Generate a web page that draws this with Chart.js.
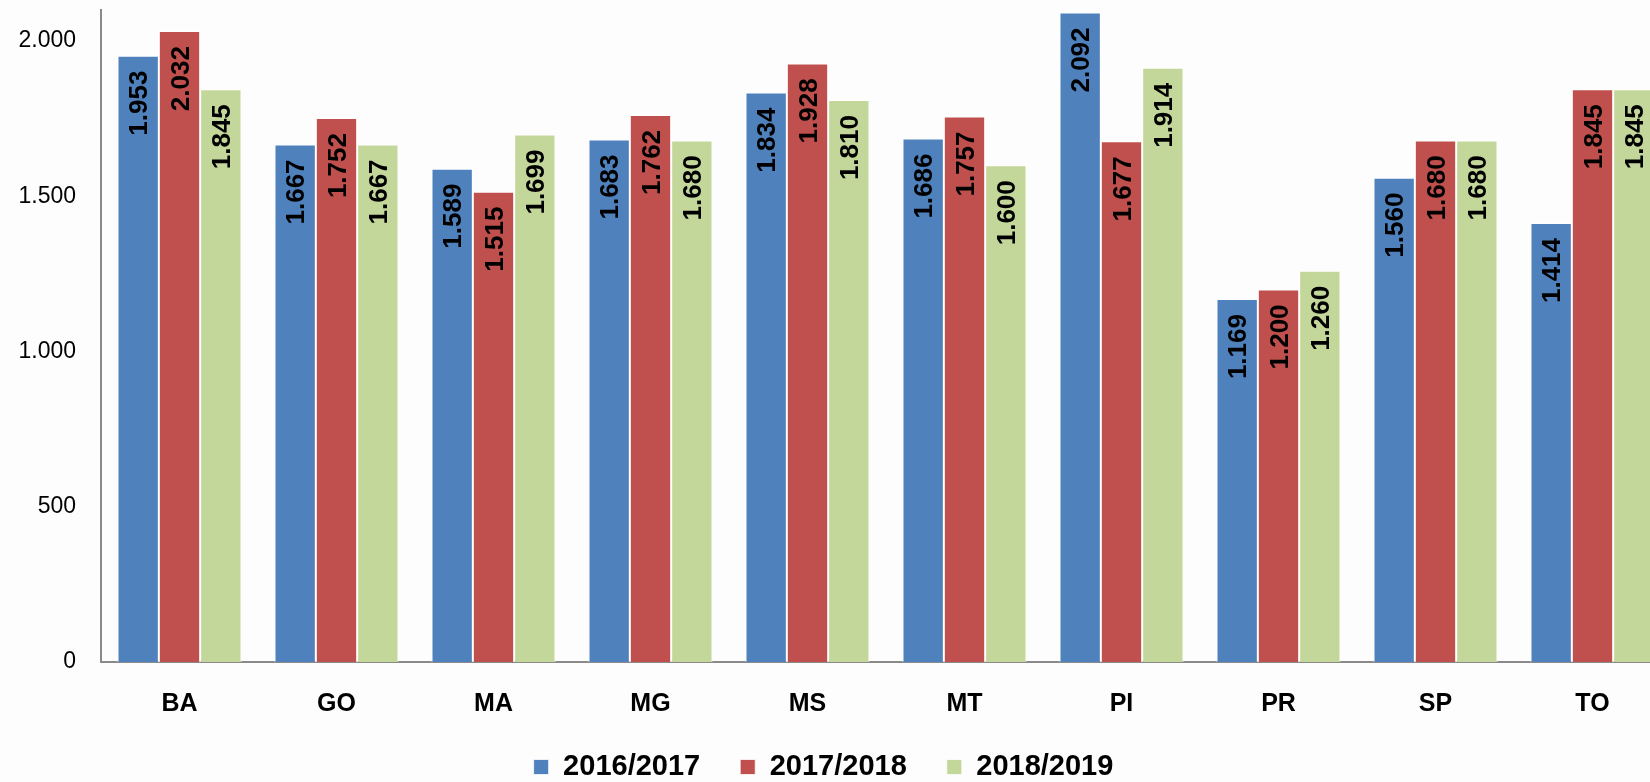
<!DOCTYPE html>
<html lang="pt-BR">
<head>
    <meta charset="UTF-8">
    <title>Gráfico por estado</title>
    <script src="https://cdn.jsdelivr.net/npm/chart.js"></script>
    <style>
        html, body { margin: 0; padding: 0; background: #fdfdfd; overflow: hidden; }
        canvas { display: block; }
    </style>
</head>
<body>
    <canvas id="myChart" width="1680" height="782"></canvas>
    <script>
        // dados
        const estados = ['BA', 'GO', 'MA', 'MG', 'MS', 'MT', 'PI', 'PR', 'SP', 'TO'];
        const safra2016 = [1953, 1667, 1589, 1683, 1834, 1686, 2092, 1169, 1560, 1414];
        const safra2017 = [2032, 1752, 1515, 1762, 1928, 1757, 1677, 1200, 1680, 1845];
        const safra2018 = [1845, 1667, 1699, 1680, 1810, 1600, 1914, 1260, 1680, 1845];
        const rotulos = ['2016/2017', '2017/2018', '2018/2019'];
        const marcasY = [0, 500, 1000, 1500, 2000];

        const fonte = "'Liberation Sans', Arial, sans-serif";

        // separador de milhar com ponto
        function fmt(v) {
            return String(v).replace(/\B(?=(\d{3})+(?!\d))/g, '.');
        }

        // rótulos verticais dentro das barras
        const rotuloBarras = {
            id: 'rotuloBarras',
            afterDatasetsDraw(chart) {
                const ctx = chart.ctx;
                ctx.save();
                ctx.font = 'bold 26px ' + fonte;
                ctx.fillStyle = '#000';
                ctx.textAlign = 'right';
                ctx.textBaseline = 'middle';
                chart.data.datasets.forEach((ds, i) => {
                    chart.getDatasetMeta(i).data.forEach((bar, j) => {
                        ctx.save();
                        ctx.translate(bar.x + 2, bar.y + 15);
                        ctx.rotate(-Math.PI / 2);
                        ctx.fillText(fmt(ds.data[j]), 0, 0);
                        ctx.restore();
                    });
                });
                ctx.restore();
            }
        };

        // posiciona a legenda como no original
        const moveLegenda = {
            id: 'moveLegenda',
            afterLayout(chart) {
                const lg = chart.legend;
                const dx = 823.5 - (lg.left + lg.right) / 2;
                const dy = 767 - (lg.top + 40 + 14.5);
                lg.left += dx; lg.right += dx;
                lg.top += dy; lg.bottom += dy;
            }
        };

        const borda = { top: 1, left: 1, right: 1, bottom: 0 };

        const ctx = document.getElementById('myChart').getContext('2d');
        const myChart = new Chart(ctx, {
            type: 'bar',
            data: {
                labels: estados,
                datasets: [
                    { label: rotulos[0], data: safra2016, backgroundColor: '#4F81BD', borderColor: '#ffffff', borderWidth: borda, borderSkipped: false },
                    { label: rotulos[1], data: safra2017, backgroundColor: '#C0504D', borderColor: '#ffffff', borderWidth: borda, borderSkipped: false },
                    { label: rotulos[2], data: safra2018, backgroundColor: '#C4D79B', borderColor: '#ffffff', borderWidth: borda, borderSkipped: false }
                ]
            },
            options: {
                responsive: false,
                animation: false,
                categoryPercentage: 0.79,
                barPercentage: 1.0,
                layout: { padding: { left: 0, right: 9, top: 10, bottom: 0 } },
                plugins: {
                    tooltip: { enabled: false },
                    legend: {
                        position: 'bottom',
                        maxHeight: 66,
                        labels: {
                            boxWidth: 15,
                            boxHeight: 15,
                            padding: 40,
                            color: '#000',
                            font: { family: fonte, size: 29, weight: 'bold' }
                        }
                    }
                },
                scales: {
                    x: {
                        grid: { display: false, drawTicks: false },
                        border: { display: true, color: '#8a8a8a', width: 2 },
                        ticks: {
                            color: '#000',
                            padding: 27,
                            font: { family: fonte, size: 25, weight: 'bold' }
                        },
                        afterFit(scale) {
                            scale.height = 54;
                            scale.paddingLeft = 0;
                            scale.paddingRight = 0;
                        }
                    },
                    y: {
                        min: 0,
                        max: 2100,
                        grid: { display: false, drawTicks: false },
                        border: { display: true, color: '#8a8a8a', width: 2 },
                        ticks: {
                            stepSize: 500,
                            color: '#000',
                            padding: 25,
                            font: { family: fonte, size: 23 },
                            callback: (v) => fmt(v)
                        },
                        afterBuildTicks(axis) {
                            axis.ticks = marcasY.map(v => ({ value: v }));
                        },
                        afterFit(scale) {
                            scale.width = 101;
                            scale.paddingTop = 0;
                            scale.paddingBottom = 0;
                        }
                    }
                }
            },
            plugins: [rotuloBarras, moveLegenda]
        });
    </script>
</body>
</html>
